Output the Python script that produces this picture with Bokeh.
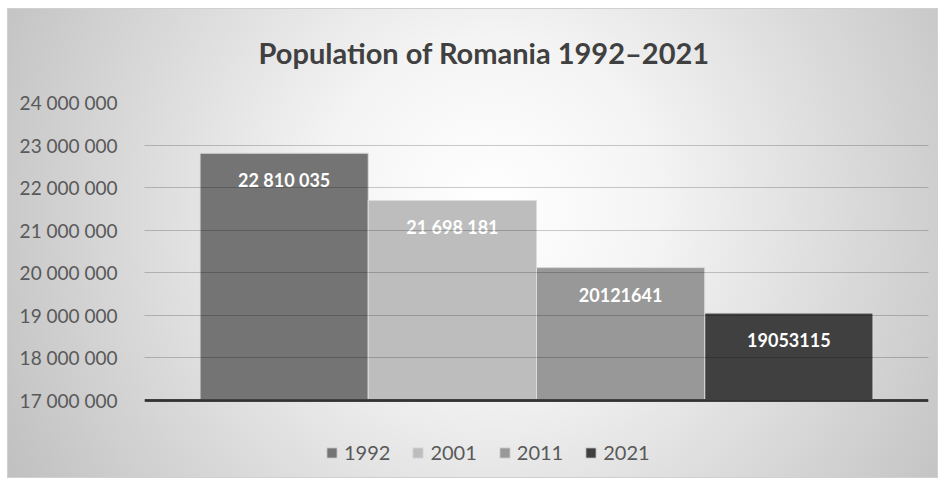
from bokeh.plotting import figure
from bokeh.models import ColumnDataSource, Range1d, FixedTicker, Legend, LegendItem, InlineStyleSheet, Title, Span
from bokeh.embed import file_html
from bokeh.resources import INLINE
from bokeh.core.properties import value

# ---- data ----
years = ["1992", "2001", "2011", "2021"]
population = [22810035, 21698181, 20121641, 19053115]
bar_labels = ["22 810 035", "21 698 181", "20121641", "19053115"]
bar_colors = ["#747474", "#bdbdbd", "#989898", "#404040"]
y_ticks = [17000000, 18000000, 19000000, 20000000, 21000000, 22000000, 23000000, 24000000]
y_tick_labels = ["17 000 000", "18 000 000", "19 000 000", "20 000 000",
                 "21 000 000", "22 000 000", "23 000 000", "24 000 000"]
title_text = "Population of Romania 1992\u20132021"

FONT = "Lato"
pos = list(range(len(years)))
gap = 0.33
bottom_pad = 2.02e6  # extra room below the axis for the legend

src = ColumnDataSource(dict(x=pos, top=population, year=years, color=bar_colors, label=bar_labels))

p = figure(width=946, height=486, output_backend="svg", toolbar_location=None,
           x_range=Range1d(-0.5 - gap, len(years) - 0.5 + gap),
           y_range=Range1d(y_ticks[0] - bottom_pad, y_ticks[-1]))

css = """
:host {
  background-color: #ffffff;
  background-image: radial-gradient(circle at 52% 42%, #ffffff 0%, #f4f4f4 30%, #c0c0c0 100%),
                    linear-gradient(#d0d0d0, #d0d0d0);
  background-size: 929px 468px, 931px 470px;
  background-position: 8px 9px, 7px 8px;
  background-repeat: no-repeat;
}
"""
p.stylesheets = [InlineStyleSheet(css=css)]
p.border_fill_color = None
p.background_fill_color = None
p.outline_line_color = None

p.min_border_left = 144
p.min_border_right = 18
p.min_border_top = 102
p.min_border_bottom = 0

t = Title(text=title_text, align="left", offset=114, text_font=FONT, text_font_size="29px",
          text_font_style="bold", text_color="#404040", standoff=65)
p.title = t

bars = p.vbar(x="x", top="top", bottom=y_ticks[0], width=1.0, source=src,
              fill_color="color", line_color="#dcdcdc", line_width=1)

p.text(x="x", y="top", text="label", source=src, y_offset=27,
       text_font=value(FONT), text_font_size="18px", text_font_style="bold",
       text_color="white", text_align="center", text_baseline="middle")

# grid
p.xgrid.visible = False
p.ygrid.ticker = FixedTicker(ticks=y_ticks)
p.ygrid.grid_line_color = "black"
p.ygrid.grid_line_alpha = 0.2
p.ygrid.grid_line_width = 1
p.ygrid.level = "overlay"

# base line at the axis minimum
p.add_layout(Span(location=y_ticks[0], dimension="width", line_color="#404040", line_width=3))

# y axis
p.yaxis.ticker = FixedTicker(ticks=y_ticks)
p.yaxis.major_label_overrides = {v: s for v, s in zip(y_ticks, y_tick_labels)}
p.yaxis.axis_line_color = None
p.yaxis.major_tick_line_color = None
p.yaxis.minor_tick_line_color = None
p.yaxis.major_label_standoff = 21
p.yaxis.major_label_text_font = FONT
p.yaxis.major_label_text_font_size = "19px"
p.yaxis.major_label_text_color = "#595959"

p.xaxis.visible = False

items = [LegendItem(label=y, renderers=[bars], index=i) for i, y in enumerate(years)]
legend = Legend(items=items, orientation="horizontal", location=(181, 22),
                label_text_font=FONT, label_text_font_size="20px", label_text_color="#595959",
                glyph_width=13, glyph_height=13, label_standoff=6, spacing=21,
                padding=0, margin=0, background_fill_alpha=0, border_line_color=None)
p.add_layout(legend, "center")

open("out.html", "w").write(file_html(p, INLINE))
